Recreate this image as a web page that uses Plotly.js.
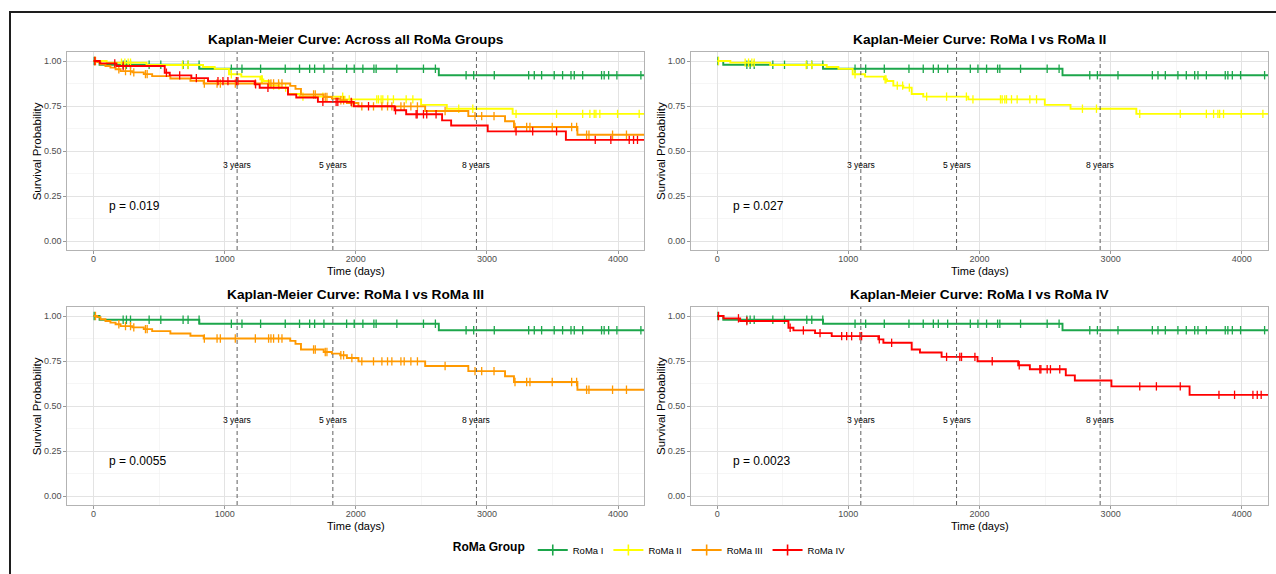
<!DOCTYPE html>
<html><head><meta charset="utf-8">
<script src="https://cdn.plot.ly/plotly-3.0.1.min.js"></script>
<style>
html,body{margin:0;padding:0;background:#fff;overflow:hidden;width:1276px;height:574px}
#chart{width:1276px;height:574px;position:absolute;left:0;top:0}
#frame{position:absolute;left:9px;top:11px;width:1400px;height:700px;border-left:2.5px solid #1e1e1e;border-top:2.5px solid #1e1e1e;pointer-events:none}
</style></head><body>
<div id="chart"></div><div id="frame"></div>
<script>
// ---------------- data ----------------
const groupNames = ['RoMa I', 'RoMa II', 'RoMa III', 'RoMa IV'];
const groupColors = ['#1CA64B', '#FFFF00', '#FF9900', '#FF0000'];

// RoMa I
const romaI_times = [0, 46, 807, 2633];
const romaI_surv  = [1.0, 0.979, 0.957, 0.921];
const romaI_censor = [5, 226, 251, 282, 424, 513, 683, 721, 805, 1051, 1132, 1274, 1462, 1571, 1648, 1686, 1757, 1930, 1988, 2054, 2138, 2155, 2313, 2516, 2607, 2841, 2899, 3056, 3318, 3361, 3417, 3513, 3577, 3641, 3666, 3730, 3874, 3894, 3928, 3991, 4174];

// RoMa II
const romaII_times = [0, 100, 404, 835, 924, 1033, 1127, 1272, 1295, 1343, 1419, 1483, 1571, 1915, 2498, 2694, 3196];
const romaII_surv  = [1.0, 0.991, 0.978, 0.967, 0.956, 0.926, 0.913, 0.898, 0.889, 0.863, 0.852, 0.817, 0.802, 0.787, 0.756, 0.735, 0.706];
const romaII_censor = [10, 213, 239, 264, 282, 678, 721, 1051, 1280, 1287, 1373, 1414, 1465, 1597, 1749, 1900, 1950, 2160, 2173, 2193, 2206, 2244, 2287, 2384, 2435, 2785, 2892, 3222, 3531, 3730, 3785, 3818, 3831, 3861, 3996, 4161];

// RoMa III
const romaIII_times = [0, 28, 53, 91, 129, 168, 206, 295, 383, 447, 586, 739, 840, 1500, 1540, 1582, 1755, 1818, 1881, 1932, 2020, 2529, 2858, 3138, 3206, 3690];
const romaIII_surv  = [1.0, 0.994, 0.982, 0.972, 0.963, 0.954, 0.944, 0.937, 0.927, 0.916, 0.903, 0.890, 0.875, 0.862, 0.845, 0.814, 0.800, 0.791, 0.782, 0.767, 0.748, 0.722, 0.694, 0.665, 0.633, 0.590];
const romaIII_censor = [15, 193, 244, 282, 307, 396, 409, 845, 942, 967, 1081, 1234, 1335, 1353, 1373, 1411, 1437, 1678, 1691, 1767, 1780, 1886, 1907, 1970, 2046, 2135, 2199, 2242, 2275, 2344, 2369, 2420, 2470, 2681, 2909, 2960, 3054, 3214, 3303, 3328, 3498, 3646, 3684, 3760, 3778, 3958, 4064];

// RoMa IV
const romaIV_times = [0, 48, 175, 543, 581, 746, 873, 1229, 1267, 1483, 1546, 1711, 1985, 2295, 2384, 2658, 2727, 3006, 3602];
const romaIV_surv  = [1.0, 0.987, 0.972, 0.935, 0.920, 0.905, 0.888, 0.870, 0.851, 0.814, 0.797, 0.773, 0.749, 0.726, 0.704, 0.670, 0.642, 0.609, 0.562];
const romaIV_censor = [10, 162, 226, 556, 657, 784, 949, 987, 1025, 1089, 1101, 1236, 1330, 1749, 1850, 1863, 1965, 2097, 2303, 2460, 2468, 2516, 2541, 2612, 3222, 3349, 3531, 3826, 3945, 4085, 4118, 4148];

const followUpEnd = [4400, 4400, 4400, 4400];

const panelTitles = [
  'Kaplan-Meier Curve: Across all RoMa Groups',
  'Kaplan-Meier Curve: RoMa I vs RoMa II',
  'Kaplan-Meier Curve: RoMa I vs RoMa III',
  'Kaplan-Meier Curve: RoMa I vs RoMa IV'
];
const panelGroups = [[0, 1, 2, 3], [0, 1], [0, 2], [0, 3]];
const pValueLabels = ['p = 0.019', 'p = 0.027', 'p = 0.0055', 'p = 0.0023'];

const milestoneDays = [1095, 1825, 2920];
const milestoneLabels = ['3 years', '5 years', '8 years'];

const xTickVals = [0, 1000, 2000, 3000, 4000];
const yTickVals = [0, 0.25, 0.5, 0.75, 1];
const xAxisTitle = 'Time (days)';
const yAxisTitle = 'Survival Probability';
const legendTitle = 'RoMa Group';

// ---------------- build ----------------
const groupData = [
  {t: romaI_times, s: romaI_surv, c: romaI_censor},
  {t: romaII_times, s: romaII_surv, c: romaII_censor},
  {t: romaIII_times, s: romaIII_surv, c: romaIII_censor},
  {t: romaIV_times, s: romaIV_surv, c: romaIV_censor}
];

function survAt(g, time) {
  let v = g.s[0];
  for (let i = 0; i < g.t.length; i++) { if (g.t[i] <= time) v = g.s[i]; }
  return v;
}

const W = 1276, H = 574;
// panel boxes in pixels [left, right, top, bottom]
const boxes = [
  [67.3, 644.3, 52, 250],
  [691, 1268, 52, 250],
  [67.3, 644.3, 307, 505],
  [691, 1268, 307, 505]
];

const FONT = 'Liberation Sans, Arial, Helvetica, sans-serif';
const traces = [];
const shapes = [];
const annotations = [];
const layout = {
  width: W, height: H,
  margin: {l: 0, r: 0, t: 0, b: 0},
  paper_bgcolor: '#ffffff',
  plot_bgcolor: '#ffffff',
  font: {family: FONT, color: '#000'},
  showlegend: true,
  legend: {
    orientation: 'h', x: 0.51, xanchor: 'center', y: 1 - 550 / H, yanchor: 'middle',
    title: {text: '<b>' + legendTitle + '</b>', side: 'left', font: {size: 12, color: '#000'}},
    font: {size: 9.5, color: '#000'}, itemwidth: 30, tracegroupgap: 0,
    bgcolor: 'rgba(0,0,0,0)'
  },
  shapes: shapes,
  annotations: annotations
};

boxes.forEach((b, p) => {
  const sfx = p === 0 ? '' : String(p + 1);
  const xa = 'x' + sfx, ya = 'y' + sfx;
  layout['xaxis' + sfx] = {
    domain: [b[0] / W, b[1] / W], anchor: ya,
    range: [-200, 4200], tickvals: xTickVals, ticktext: xTickVals.map(String),
    showgrid: true, gridcolor: '#E3E3E3', gridwidth: 1,
    minor: {dtick: 500, tick0: 500, showgrid: true, gridcolor: '#F0F0F0', gridwidth: 0.6, ticks: ''},
    zeroline: false, showline: true, mirror: true, linecolor: '#B3B3B3', linewidth: 1,
    ticks: 'outside', ticklen: 3, tickcolor: '#999', tickwidth: 1, ticklabelstandoff: -3,
    tickfont: {size: 9, color: '#4D4D4D'}, fixedrange: true
  };
  layout['yaxis' + sfx] = {
    domain: [1 - b[3] / H, 1 - b[2] / H], anchor: xa,
    range: [-0.05, 1.05], tickvals: yTickVals, ticktext: yTickVals.map(v => v.toFixed(2)),
    showgrid: true, gridcolor: '#E3E3E3', gridwidth: 1,
    minor: {dtick: 0.25, tick0: 0.125, showgrid: true, gridcolor: '#F0F0F0', gridwidth: 0.6, ticks: ''},
    zeroline: false, showline: true, mirror: true, linecolor: '#B3B3B3', linewidth: 1,
    ticks: 'outside', ticklen: 3, tickcolor: '#999', tickwidth: 1,
    tickfont: {size: 9, color: '#4D4D4D'}, fixedrange: true
  };

  // curves
  panelGroups[p].forEach(gi => {
    const g = groupData[gi];
    traces.push({
      type: 'scatter', mode: 'lines', xaxis: xa, yaxis: ya,
      x: g.t.concat([followUpEnd[gi]]), y: g.s.concat([g.s[g.s.length - 1]]),
      line: {shape: 'hv', color: groupColors[gi], width: 1.9},
      showlegend: false, hoverinfo: 'skip', legendgroup: groupNames[gi]
    });
    traces.push({
      type: 'scatter', mode: 'markers', xaxis: xa, yaxis: ya,
      x: g.c, y: g.c.map(t => survAt(g, t)),
      marker: {symbol: 'line-ns', size: 6, color: groupColors[gi], line: {color: groupColors[gi], width: 1.3}},
      showlegend: false, hoverinfo: 'skip', legendgroup: groupNames[gi]
    });
  });

  // milestone lines
  milestoneDays.forEach((d, k) => {
    shapes.push({type: 'line', xref: xa, yref: ya + ' domain', x0: d, x1: d, y0: 0, y1: 1,
      line: {color: '#606060', width: 1, dash: '4px,3px'}});
    annotations.push({xref: xa, yref: ya, x: d, y: 0.42, text: milestoneLabels[k], showarrow: false,
      font: {size: 8.5, color: '#000'}, xanchor: 'center', yanchor: 'middle'});
  });

  // p value
  annotations.push({xref: xa, yref: ya, x: 105, y: 0.195, text: pValueLabels[p], showarrow: false,
    font: {size: 12, color: '#000'}, xanchor: 'left', yanchor: 'middle'});

  // title
  annotations.push({xref: 'paper', yref: 'paper', x: (b[0] + b[1]) / 2 / W, y: 1 - (b[2] - 13) / H,
    text: '<b>' + panelTitles[p] + '</b>', showarrow: false, font: {size: 13.7, color: '#000'},
    xanchor: 'center', yanchor: 'middle'});
  // axis titles
  annotations.push({xref: 'paper', yref: 'paper', x: (b[0] + b[1]) / 2 / W, y: 1 - (b[3] + 21) / H,
    text: xAxisTitle, showarrow: false, font: {size: 11, color: '#000'}, xanchor: 'center', yanchor: 'middle'});
  annotations.push({xref: 'paper', yref: 'paper', x: (b[0] - 30) / W, y: 1 - ((b[2] + b[3]) / 2) / H,
    text: yAxisTitle, showarrow: false, textangle: -90, font: {size: 11.5, color: '#000'}, xanchor: 'center', yanchor: 'middle'});
});

// legend entries
groupNames.forEach((n, gi) => {
  traces.push({
    type: 'scatter', mode: 'lines+markers', x: [null], y: [null], xaxis: 'x', yaxis: 'y',
    name: n, legendgroup: n, showlegend: true,
    line: {color: groupColors[gi], width: 1.9},
    marker: {symbol: 'cross-thin', size: 8, color: groupColors[gi], line: {color: groupColors[gi], width: 1.6}}
  });
});

Plotly.newPlot('chart', traces, layout, {displayModeBar: false, staticPlot: true});
</script>
</body></html>
